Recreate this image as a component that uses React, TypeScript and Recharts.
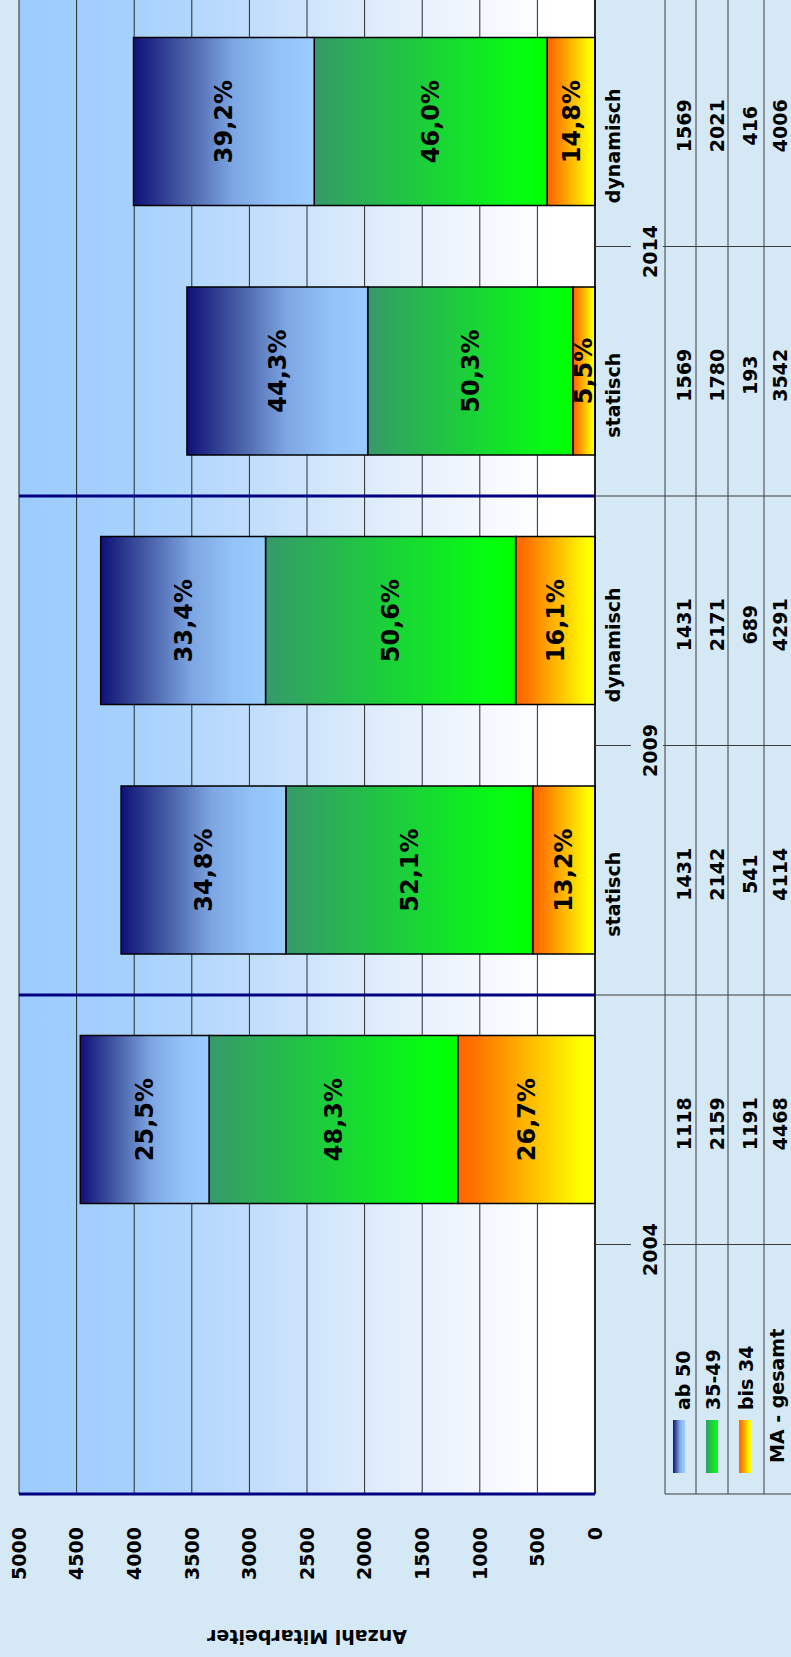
import { BarChart, Bar, XAxis, YAxis, CartesianGrid, LabelList, ReferenceLine } from 'recharts';

// category slots (left to right in the unrotated chart), first slot holds the table row headers
const SLOTS = ['header', '2004', '2009 statisch', '2009 dynamisch', '2014 statisch', '2014 dynamisch'];
const GROUPS = ['2004', '2004', '2009', '2009', '2014', '2014'];
const SUB_LABELS = ['', '', 'statisch', 'dynamisch', 'statisch', 'dynamisch'];

const AB_50 = [null, 1118, 1431, 1431, 1569, 1569];
const AGE_35_49 = [null, 2159, 2142, 2171, 1780, 2021];
const BIS_34 = [null, 1191, 541, 689, 193, 416];
const TOTAL = [null, 4468, 4114, 4291, 3542, 4006];

const AB_50_PCT = ['', '25,5%', '34,8%', '33,4%', '44,3%', '39,2%'];
const AGE_35_49_PCT = ['', '48,3%', '52,1%', '50,6%', '50,3%', '46,0%'];
const BIS_34_PCT = ['', '26,7%', '13,2%', '16,1%', '5,5%', '14,8%'];

const ROW_NAMES = ['ab 50', '35-49', 'bis 34', 'MA - gesamt'];
const Y_TICKS = [0, 500, 1000, 1500, 2000, 2500, 3000, 3500, 4000, 4500, 5000];
const Y_TITLE = 'Anzahl Mitarbeiter';

// layout of the unrotated chart
const W = 1657;
const H = 791;
const CHART_W = 1660;
const MARGIN = { top: 19, right: 0, bottom: 0, left: 0 };
const Y_AXIS_W = 163;
const X_AXIS_H = 196;
const BAND = (CHART_W - MARGIN.left - MARGIN.right - Y_AXIS_W) / SLOTS.length;
const PLOT_MID = MARGIN.top + (H - MARGIN.top - X_AXIS_H) / 2;

const ROW_LINES = [70, 101, 133, 169];
const VALUE_BASE = [96, 129, 162, 192];
const HEAD_BASE = [95, 125, 158, 189];
const KEY_TOP = [78, 111, 144];
const KEY_FILLS = ['url(#gOld)', 'url(#gMid)', 'url(#gYoung)'];

const data = SLOTS.map((slot, i) => ({
  slot,
  young: BIS_34[i],
  mid: AGE_35_49[i],
  old: AB_50[i],
  youngPct: BIS_34_PCT[i],
  midPct: AGE_35_49_PCT[i],
  oldPct: AB_50_PCT[i],
}));

const separators = SLOTS.filter((_, i) => i > 0 && GROUPS[i] !== GROUPS[i - 1]);

const lineStyle = { stroke: '#3c3c3c', strokeWidth: 1 };

function TableTick(props: any) {
  const { x, y, payload } = props;
  const i = SLOTS.indexOf(payload.value);
  const left = x - BAND / 2;
  const right = x + BAND / 2;
  const bottom = y + X_AXIS_H;
  const rows = [AB_50[i], AGE_35_49[i], BIS_34[i], TOTAL[i]];

  return (
    <g>
      {ROW_LINES.map((d) => (
        <line key={`r${d}`} x1={left} x2={right} y1={y + d} y2={y + d} {...lineStyle} />
      ))}
      {i === 0 ? (
        <g>
          <line x1={left} x2={left} y1={y + ROW_LINES[0]} y2={bottom} {...lineStyle} />
          {KEY_TOP.map((t, k) => (
            <rect key={`k${k}`} x={left + 21} y={y + t} width={53} height={12} fill={KEY_FILLS[k]} />
          ))}
          {ROW_NAMES.map((name, k) => (
            <text key={name} x={k < 3 ? left + 84 : left + 31} y={y + HEAD_BASE[k]} fontSize={19} fill="#000">
              {name}
            </text>
          ))}
        </g>
      ) : (
        <g>
          {GROUPS[i] !== GROUPS[i - 1] ? (
            <line x1={left} x2={left} y1={y} y2={bottom} {...lineStyle} />
          ) : (
            <g>
              <line x1={left} x2={left} y1={y} y2={y + 36} {...lineStyle} />
              <line x1={left} x2={left} y1={y + 68} y2={bottom} {...lineStyle} />
              <text x={left - 5} y={y + 62} textAnchor="middle" fontSize={19} fill="#000">
                {GROUPS[i]}
              </text>
            </g>
          )}
          <text x={x - 24} y={y + 25} textAnchor="middle" fontSize={19} fill="#000">
            {SUB_LABELS[i]}
          </text>
          {rows.map((v, k) => (
            <text key={`v${k}`} x={x - 4} y={y + VALUE_BASE[k]} textAnchor="middle" fontSize={19} fill="#000">
              {v}
            </text>
          ))}
        </g>
      )}
    </g>
  );
}

const pctLabel = { fill: '#000', fontSize: 24, fontWeight: 'bold' };

export default function App() {
  return (
    <div
      style={{
        position: 'absolute',
        left: 0,
        top: 0,
        width: W,
        height: H,
        overflow: 'hidden',
        background: '#d4e9f5',
        transformOrigin: '0 0',
        transform: `translateY(${W}px) rotate(-90deg)`,
        fontFamily: '"DejaVu Sans", sans-serif',
        fontWeight: 'bold',
      }}
    >
      <BarChart width={CHART_W} height={H} data={data} margin={MARGIN}>
        <defs>
          <linearGradient id="plotBg" x1="0" y1="0" x2="0" y2="1">
            <stop offset="0" stopColor="#9ccbfe" />
            <stop offset="0.2" stopColor="#a6d1fe" />
            <stop offset="0.4" stopColor="#c0ddfc" />
            <stop offset="0.6" stopColor="#dcebfb" />
            <stop offset="0.8" stopColor="#f3f7fe" />
            <stop offset="0.92" stopColor="#ffffff" />
          </linearGradient>
          <linearGradient id="gOld" x1="0" y1="0" x2="0" y2="1">
            <stop offset="0" stopColor="#0f1177" />
            <stop offset="0.3" stopColor="#4a62aa" />
            <stop offset="0.55" stopColor="#7da6e2" />
            <stop offset="0.8" stopColor="#93c3f7" />
            <stop offset="1" stopColor="#99ccff" />
          </linearGradient>
          <linearGradient id="gMid" x1="0" y1="0" x2="0" y2="1">
            <stop offset="0" stopColor="#36996a" />
            <stop offset="0.9" stopColor="#05ff10" />
            <stop offset="1" stopColor="#00ff00" />
          </linearGradient>
          <linearGradient id="gYoung" x1="0" y1="0" x2="0" y2="1">
            <stop offset="0" stopColor="#ff6600" />
            <stop offset="0.1" stopColor="#ff6e00" />
            <stop offset="0.9" stopColor="#ffff00" />
            <stop offset="1" stopColor="#ffff00" />
          </linearGradient>
        </defs>
        <CartesianGrid vertical={false} stroke="#2a2a2a" fill="url(#plotBg)" fillOpacity={1} />
        <XAxis
          dataKey="slot"
          interval={0}
          height={X_AXIS_H}
          tickSize={0}
          tickMargin={0}
          tickLine={false}
          axisLine={{ stroke: '#000', strokeWidth: 1.5 }}
          tick={<TableTick />}
        />
        <YAxis
          type="number"
          domain={[0, 5000]}
          ticks={Y_TICKS}
          width={Y_AXIS_W}
          tickSize={0}
          tickMargin={33}
          tickLine={false}
          axisLine={{ stroke: '#000080', strokeWidth: 3 }}
          tick={{ fill: '#000', fontSize: 19, fontWeight: 'bold' }}
          label={() => (
            <text
              x={27}
              y={PLOT_MID}
              transform={`rotate(-90 27 ${PLOT_MID})`}
              textAnchor="middle"
              fontSize={19}
              fill="#000"
            >
              {Y_TITLE}
            </text>
          )}
        />
        {separators.map((s) => (
          <ReferenceLine key={s} x={s} position="start" stroke="#000080" strokeWidth={3} />
        ))}
        <Bar dataKey="young" stackId="a" barSize={168} fill="url(#gYoung)" stroke="#000" strokeWidth={1.5} isAnimationActive={false}>
          <LabelList dataKey="youngPct" position="center" {...pctLabel} />
        </Bar>
        <Bar dataKey="mid" stackId="a" barSize={168} fill="url(#gMid)" stroke="#000" strokeWidth={1.5} isAnimationActive={false}>
          <LabelList dataKey="midPct" position="center" {...pctLabel} />
        </Bar>
        <Bar dataKey="old" stackId="a" barSize={168} fill="url(#gOld)" stroke="#000" strokeWidth={1.5} isAnimationActive={false}>
          <LabelList dataKey="oldPct" position="center" {...pctLabel} />
        </Bar>
      </BarChart>
    </div>
  );
}
